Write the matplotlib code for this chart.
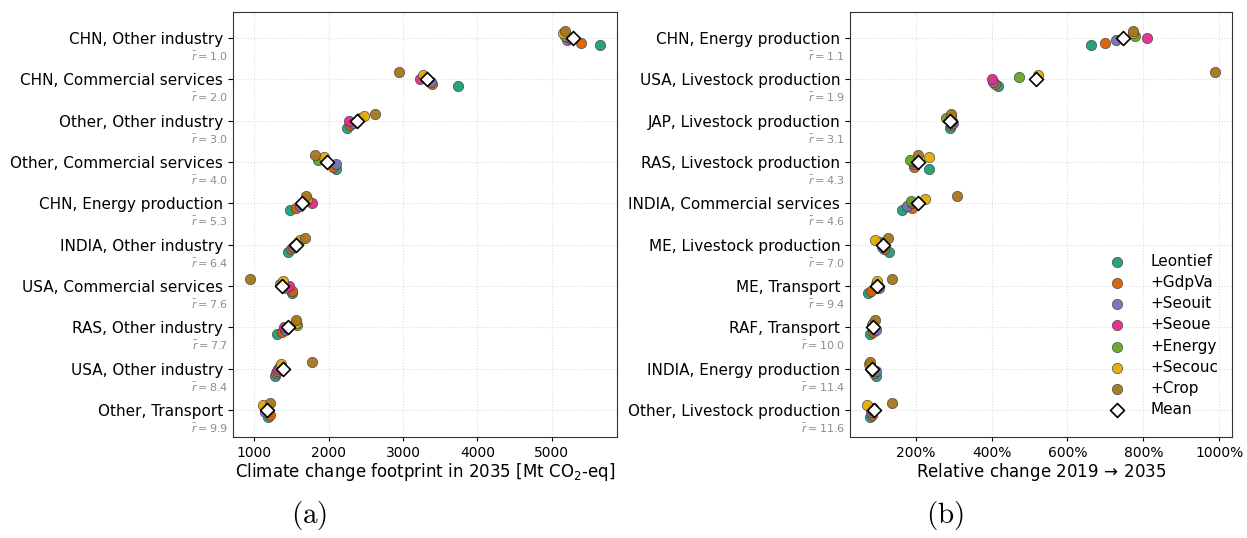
import numpy
import matplotlib
matplotlib.use('Agg')
import matplotlib.pyplot as plt
import matplotlib.transforms as mtransforms
from matplotlib.ticker import FuncFormatter

models = ['Leontief', '+GdpVa', '+Seouit', '+Seoue', '+Energy', '+Secouc', '+Crop']
colors = ['#1b9e77', '#d95f02', '#7570b3', '#e7298a', '#66a61e', '#e6ab02', '#a6761d']

# panel (a): footprint 2035 [Mt CO2-eq], one row per model (order as models)
cats_a = ['CHN, Other industry', 'CHN, Commercial services', 'Other, Other industry',
          'Other, Commercial services', 'CHN, Energy production', 'INDIA, Other industry',
          'USA, Commercial services', 'RAS, Other industry', 'USA, Other industry',
          'Other, Transport']
rank_a = [1.0, 2.0, 3.0, 4.0, 5.3, 6.4, 7.6, 7.7, 8.4, 9.9]
leontief_a = [5644, 3734, 2244, 2096, 1483, 1452, 1501, 1300, 1282, 1188]
gdpva_a = [5398, 3393, 2280, 2056, 1555, 1487, 1510, 1371, 1295, 1215]
seouit_a = [5205, 3380, 2325, 2101, 1608, 1519, 1430, 1407, 1305, 1148]
seoue_a = [5232, 3228, 2271, 1976, 1774, 1550, 1465, 1403, 1318, 1174]
energy_a = [5174, 3300, 2423, 1850, 1698, 1581, 1349, 1573, 1349, 1139]
secouc_a = [5152, 3273, 2481, 1940, 1707, 1617, 1380, 1564, 1358, 1117]
crop_a = [5183, 2942, 2624, 1810, 1698, 1685, 946, 1559, 1769, 1206]

# panel (b): relative change 2019 -> 2035 [%]
cats_b = ['CHN, Energy production', 'USA, Livestock production', 'JAP, Livestock production',
          'RAS, Livestock production', 'INDIA, Commercial services', 'ME, Livestock production',
          'ME, Transport', 'RAF, Transport', 'INDIA, Energy production',
          'Other, Livestock production']
rank_b = [1.1, 1.9, 3.1, 4.3, 4.6, 7.0, 9.4, 10.0, 11.4, 11.6]
leontief_b = [662, 416, 289, 235, 163, 128, 74, 80, 94, 79]
gdpva_b = [699, 408, 292, 196, 190, 117, 82, 86, 89, 85]
seouit_b = [727, 404, 298, 196, 176, 112, 104, 94, 94, 82]
seoue_b = [810, 400, 296, 197, 189, 114, 100, 88, 82, 84]
energy_b = [777, 471, 280, 185, 187, 106, 96, 85, 80, 88]
secouc_b = [774, 523, 292, 234, 223, 91, 97, 87, 77, 72]
crop_b = [773, 988, 292, 205, 308, 126, 138, 91, 78, 136]

panels = [
    dict(cats=cats_a, rank=rank_a,
         series=[leontief_a, gdpva_a, seouit_a, seoue_a, energy_a, secouc_a, crop_a],
         xlabel=r'Climate change footprint in 2035 [Mt CO$_2$-eq]', pct=False),
    dict(cats=cats_b, rank=rank_b,
         series=[leontief_b, gdpva_b, seouit_b, seoue_b, energy_b, secouc_b, crop_b],
         xlabel=r'Relative change 2019$\,\rightarrow\,$2035', pct=True),
]

fig = plt.figure(figsize=(12.47, 5.38), dpi=100)
axes = [fig.add_axes([0.1868, 0.1877, 0.308, 0.790]),
        fig.add_axes([0.6816, 0.1877, 0.3063, 0.790])]

offsets = numpy.linspace(0.17, -0.17, len(models))

for ax, p in zip(axes, panels):
    y = numpy.arange(len(p['cats']))
    vals = numpy.array(p['series'], dtype=float)
    ax.set_axisbelow(True)
    ax.grid(True, ls=':', color='#dddddd', lw=0.8)
    for k, (name, c) in enumerate(zip(models, colors)):
        ax.scatter(vals[k], y + offsets[k], s=55, color=c, edgecolor='#444444',
                   linewidth=0.5, alpha=0.95, label=name, zorder=3)
    ax.scatter(vals.mean(axis=0), y, s=50, marker='D', facecolor='white',
               edgecolor='black', linewidth=1.2, label='Mean', zorder=4)
    ax.set_yticks(y)
    ax.set_yticklabels(p['cats'], fontsize=11)
    ax.set_ylim(len(y) - 0.35, -0.63)
    ax.tick_params(axis='x', labelsize=10, length=3)
    ax.tick_params(axis='y', length=3.5)
    ax.set_xlabel(p['xlabel'], fontsize=12, labelpad=1)
    for s in ax.spines.values():
        s.set_color('#333333')
    trans = mtransforms.blended_transform_factory(ax.transAxes, ax.transData)
    trans = trans + mtransforms.ScaledTranslation(-5 / 100, 0, fig.dpi_scale_trans)
    for yi, r in zip(y, p['rank']):
        ax.text(0, yi + 0.44, r'$\bar{r} = %.1f$' % r, transform=trans, ha='right',
                va='center', fontsize=8, color='#8c8c8c')
    if p['pct']:
        ax.xaxis.set_major_formatter(FuncFormatter(lambda v, pos: f'{v:.0f}%'))

axes[1].legend(loc='lower right', frameon=False, fontsize=11, handletextpad=1.2,
               labelspacing=0.4, bbox_to_anchor=(1.0, 0.015))

fig.text(0.248, 0.041, r'$\mathrm{(a)}$', fontsize=21, ha='center', va='center',
         math_fontfamily='cm')
fig.text(0.758, 0.041, r'$\mathrm{(b)}$', fontsize=21, ha='center', va='center',
         math_fontfamily='cm')

fig.savefig('out.png', dpi=100)
